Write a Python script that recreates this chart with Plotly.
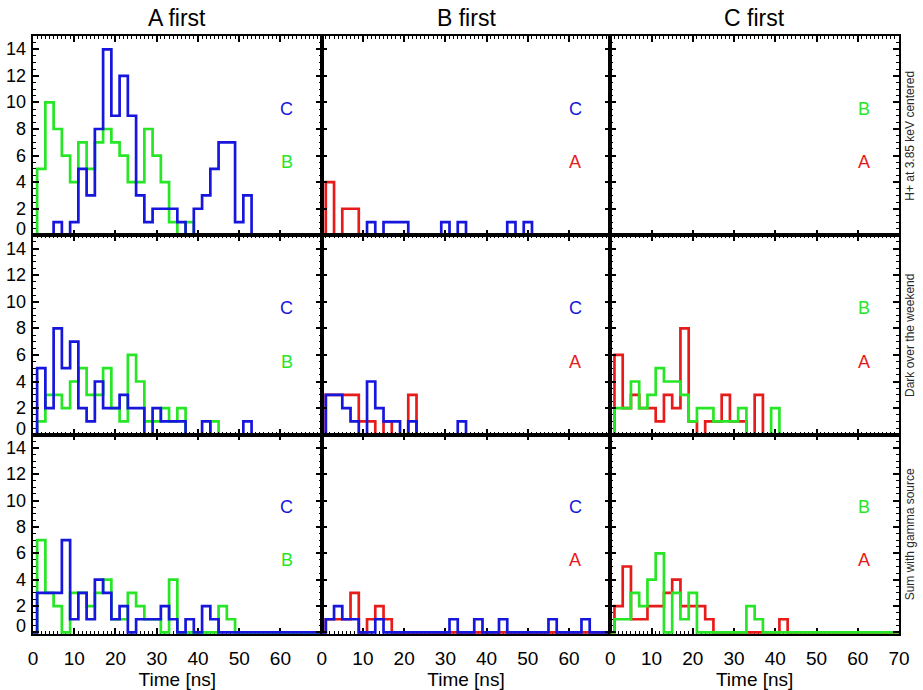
import plotly.graph_objects as go
from plotly.subplots import make_subplots

# Bin centres of the arrival-time histograms (2 ns bins)
time_ns = list(range(0, 71, 2))
y_ticks = list(range(0, 15, 2))

col_titles = ["A first", "B first", "C first"]
row_labels = ["H+ at 3.85 keV centered", "Dark over the weekend", "Sum with gamma source"]

# --- H+ at 3.85 keV centered ---
h_afirst_B = [0, 5, 10, 8, 6, 4, 7, 5, 7, 8, 7, 6, 4, 4, 8, 6, 4, 1, 0, 1,
              0, 0, 0, 0, 0, 0, 0, 0, 0, 0, 0, 0, 0, 0, 0, 0]
h_afirst_C = [0, 0, 0, 1, 0, 1, 5, 3, 8, 14, 9, 12, 9, 3, 1, 2, 2, 2, 1, 0,
              2, 3, 5, 7, 7, 1, 3, 0, 0, 0, 0, 0, 0, 0, 0, 0]
h_bfirst_A = [0, 4, 0, 2, 2, 0, 0, 0, 0, 0, 0, 0, 0, 0, 0, 0, 0, 0, 0, 0,
              0, 0, 0, 0, 0, 0, 0, 0, 0, 0, 0, 0, 0, 0, 0, 0]
h_bfirst_C = [0, 0, 0, 0, 0, 0, 1, 0, 1, 1, 1, 0, 0, 0, 0, 1, 0, 1, 0, 0,
              0, 0, 0, 1, 0, 1, 0, 0, 0, 0, 0, 0, 0, 0, 0, 0]

# --- Dark over the weekend ---
d_afirst_B = [0, 1, 3, 3, 2, 4, 5, 3, 3, 5, 2, 1, 6, 4, 1, 1, 2, 1, 2, 0,
              0, 0, 1, 0, 0, 0, 0, 0, 0, 0, 0, 0, 0, 0, 0, 0]
d_afirst_C = [0, 5, 2, 8, 5, 7, 2, 1, 4, 2, 2, 3, 2, 2, 0, 2, 1, 1, 1, 0,
              0, 1, 0, 0, 0, 0, 1, 0, 0, 0, 0, 0, 0, 0, 0, 0]
d_bfirst_A = [0, 3, 3, 3, 3, 1, 1, 0, 1, 0, 0, 3, 0, 0, 0, 0, 0, 0, 0, 0,
              0, 0, 0, 0, 0, 0, 0, 0, 0, 0, 0, 0, 0, 0, 0, 0]
d_bfirst_C = [0, 3, 3, 2, 1, 0, 4, 2, 1, 1, 0, 1, 0, 0, 0, 0, 0, 1, 0, 0,
              0, 0, 0, 0, 0, 0, 0, 0, 0, 0, 0, 0, 0, 0, 0, 0]
d_cfirst_A = [0, 6, 2, 3, 2, 2, 1, 3, 2, 8, 1, 0, 1, 1, 3, 1, 1, 0, 3, 0,
              0, 0, 0, 0, 0, 0, 0, 0, 0, 0, 0, 0, 0, 0, 0, 0]
d_cfirst_B = [0, 2, 2, 4, 2, 3, 5, 4, 4, 3, 1, 2, 2, 1, 1, 1, 2, 0, 0, 0,
              2, 0, 0, 0, 0, 0, 0, 0, 0, 0, 0, 0, 0, 0, 0, 0]

# --- Sum with gamma source ---
s_afirst_B = [0, 7, 3, 2, 0, 3, 3, 2, 3, 4, 1, 1, 3, 2, 1, 1, 0, 4, 0, 0,
              0, 0, 0, 2, 1, 0, 0, 0, 0, 0, 0, 0, 0, 0, 0, 0]
s_afirst_C = [0, 3, 3, 3, 7, 1, 3, 1, 4, 3, 1, 2, 0, 1, 1, 1, 2, 1, 0, 1,
              0, 2, 1, 0, 0, 0, 0, 0, 0, 0, 0, 0, 0, 0, 0, 0]
s_bfirst_A = [0, 1, 1, 1, 3, 0, 1, 2, 1, 0, 0, 0, 0, 0, 0, 0, 0, 0, 0, 0,
              0, 0, 0, 0, 0, 0, 0, 0, 0, 0, 0, 0, 0, 0, 0, 0]
s_bfirst_C = [0, 1, 2, 1, 1, 0, 0, 1, 0, 0, 0, 0, 0, 0, 0, 0, 1, 0, 0, 1,
              0, 0, 1, 0, 0, 0, 0, 0, 1, 0, 0, 0, 1, 0, 0, 0]
s_cfirst_A = [0, 2, 5, 1, 1, 2, 2, 3, 4, 2, 2, 2, 1, 0, 0, 0, 0, 0, 0, 0,
              0, 1, 0, 0, 0, 0, 0, 0, 0, 0, 0, 0, 0, 0, 0, 0]
s_cfirst_B = [0, 1, 1, 3, 2, 4, 6, 0, 3, 1, 3, 0, 0, 0, 0, 0, 0, 2, 1, 0,
              0, 0, 0, 0, 0, 0, 0, 0, 0, 0, 0, 0, 0, 0, 0, 0]

RED = "#e81b1b"
GREEN = "#26e626"
BLUE = "#1616dc"
colors = {"A": RED, "B": GREEN, "C": BLUE}

# (row, col) -> series in drawing order
panels = {
    (1, 1): [("B", h_afirst_B), ("C", h_afirst_C)],
    (1, 2): [("A", h_bfirst_A), ("C", h_bfirst_C)],
    (1, 3): [],
    (2, 1): [("B", d_afirst_B), ("C", d_afirst_C)],
    (2, 2): [("A", d_bfirst_A), ("C", d_bfirst_C)],
    (2, 3): [("A", d_cfirst_A), ("B", d_cfirst_B)],
    (3, 1): [("B", s_afirst_B), ("C", s_afirst_C)],
    (3, 2): [("A", s_bfirst_A), ("C", s_bfirst_C)],
    (3, 3): [("A", s_cfirst_A), ("B", s_cfirst_B)],
}
# letter tags per column: (upper, lower)
tags = {1: ("C", "B"), 2: ("C", "A"), 3: ("B", "A")}

fig = make_subplots(rows=3, cols=3, horizontal_spacing=0, vertical_spacing=0)

for (r, c), series in panels.items():
    for name, vals in series:
        fig.add_trace(go.Scatter(x=time_ns, y=vals, mode="lines",
                                 line=dict(color=colors[name], width=2.7, shape="hvh"),
                                 showlegend=False, hoverinfo="skip"),
                      row=r, col=c)

FONT = "Liberation Sans, Arial, Helvetica, sans-serif"
annotations = []
for r in range(1, 4):
    for c in range(1, 4):
        k = (r - 1) * 3 + c
        sfx = "" if k == 1 else str(k)
        upper, lower = tags[c]
        for tag, yv in ((upper, 9.5), (lower, 5.5)):
            annotations.append(dict(x=61.5, y=yv, xref="x" + sfx, yref="y" + sfx,
                                    text=tag, showarrow=False,
                                    font=dict(size=18, color=colors[tag], family=FONT)))
    # y tick labels of the left column; the bottom "0" sits slightly raised
    k = (r - 1) * 3 + 1
    sfx = "" if k == 1 else str(k)
    for v in y_ticks:
        annotations.append(dict(x=0, y=v, xref="paper", yref="y" + sfx, text=str(v),
                                showarrow=False, xanchor="right", yanchor="middle",
                                xshift=-5, yshift=(6 if v == 0 else 0),
                                font=dict(size=18, color="black", family=FONT)))

# column headings
for c, title in enumerate(col_titles):
    annotations.append(dict(x=(c + 0.5) / 3, y=1.03, xref="paper", yref="paper",
                            text=title, showarrow=False, xanchor="center", yanchor="middle",
                            font=dict(size=23, color="black", family=FONT)))
# row descriptions on the right
for r, lab in enumerate(row_labels):
    annotations.append(dict(x=1.0127, y=1 - (r + 0.5) / 3, xref="paper", yref="paper",
                            text=lab, showarrow=False, textangle=-90,
                            xanchor="center", yanchor="middle",
                            font=dict(size=12, color="#2a2a2a", family=FONT)))

axis_common = dict(showgrid=False, zeroline=False, showline=True, linecolor="black",
                   linewidth=1.6, mirror="allticks", ticks="inside", ticklen=6,
                   tickwidth=1.6, tickcolor="black", automargin=False,
                   tickfont=dict(size=19, color="black", family=FONT))

for r in range(1, 4):
    for c in range(1, 4):
        xticks = list(range(0, 71, 10)) if c == 3 else list(range(0, 61, 10))
        fig.update_xaxes(row=r, col=c, range=[0, 70], tickmode="array", tickvals=xticks,
                         showticklabels=(r == 3), ticklabelstandoff=6,
                         minor=dict(tickmode="linear", tick0=0, dtick=1, ticks="inside",
                                    ticklen=3, tickwidth=1, tickcolor="black"),
                         **axis_common)
        if r == 3:
            fig.update_xaxes(row=r, col=c, layer="below traces",
                             title=dict(text="Time [ns]", standoff=4,
                                        font=dict(size=19, color="black", family=FONT)))
        # bottom row keeps its zero-level histogram line visible above the axis
        y_lo = -0.12 if r == 3 else 0
        fig.update_yaxes(row=r, col=c, range=[y_lo, 15], tickmode="array",
                         tickvals=y_ticks, showticklabels=False,
                         minor=dict(tickmode="linear", tick0=0, dtick=0.5, ticks="inside",
                                    ticklen=3, tickwidth=1, tickcolor="black"),
                         **axis_common)

fig.update_layout(width=923, height=690,
                  margin=dict(l=33, r=24, t=36, b=56),
                  paper_bgcolor="white", plot_bgcolor="white",
                  font=dict(family=FONT, color="black"),
                  annotations=annotations, showlegend=False)

fig.write_html("out.html")
